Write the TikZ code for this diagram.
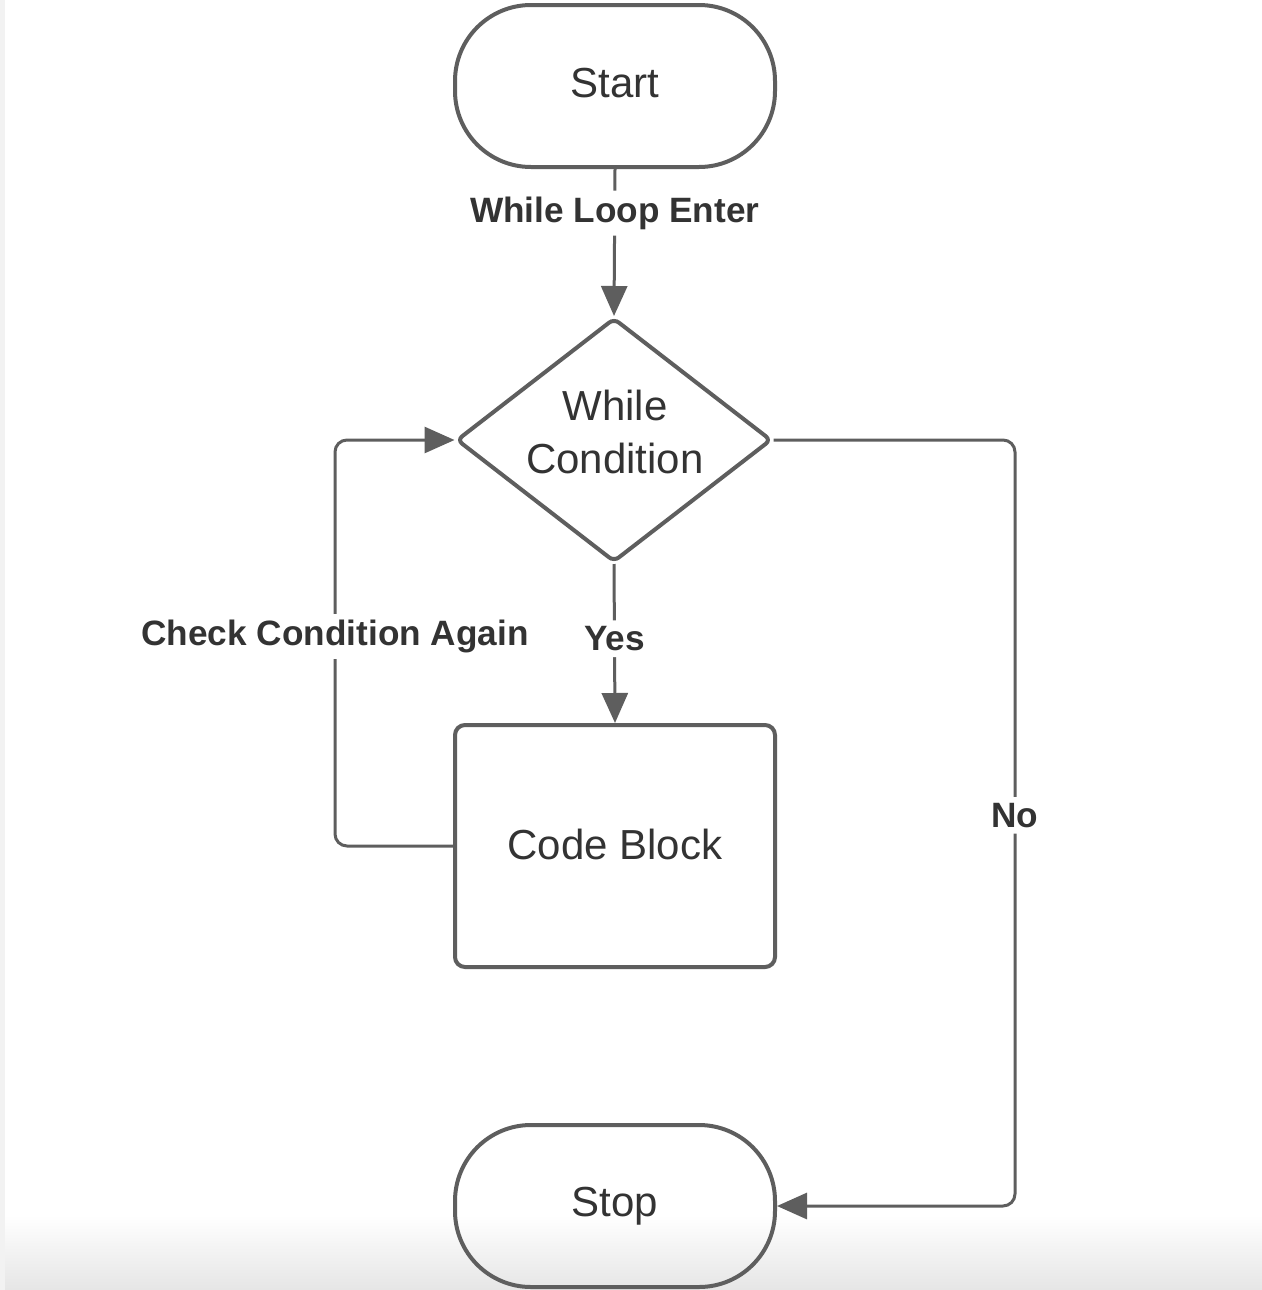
\documentclass[tikz,border=0pt]{standalone}
\usepackage{fontspec}
\setmainfont{Liberation Sans}
\usetikzlibrary{shapes.geometric,arrows.meta}
\definecolor{linegray}{HTML}{5E5E5E}
\definecolor{textgray}{HTML}{333333}
\tikzset{
  term/.style={draw=linegray, line width=2pt, rectangle, rounded corners=38pt,
    minimum width=160pt, minimum height=81pt, inner sep=0pt,
    font=\fontsize{21}{25}\selectfont, text=textgray},
  procbox/.style={draw=linegray, line width=2pt, rectangle, rounded corners=5pt,
    minimum width=160pt, minimum height=121pt, inner sep=0pt,
    font=\fontsize{21}{25}\selectfont, text=textgray},
  decision/.style={draw=linegray, line width=2pt, diamond, rounded corners=3pt,
    minimum width=157.5pt, minimum height=122pt, inner sep=0pt},
  bigtext/.style={font=\fontsize{21}{26.5}\selectfont, text=textgray, align=center},
  conn/.style={draw=linegray, line width=1.5pt, rounded corners=6pt,
    -{Triangle[length=15pt,width=13pt]}},
  lbl/.style={font=\bfseries\fontsize{17.6}{20}\selectfont, text=textgray,
    fill=white, inner sep=3pt}
}
\begin{document}
\begin{tikzpicture}[x=0.5pt,y=-0.5pt]
  % background
  \fill[white] (0,0) rectangle (1262,1290);
  \shade[top color=white, bottom color=black!10] (0,1215) rectangle (1262,1290);
  \fill[black!5] (0,0) rectangle (5,1290);
  \useasboundingbox (0,0) rectangle (1262,1290);

  % nodes
  \node[term] (start) at (615,86) {\raisebox{3pt}{Start}};
  \node[decision] (cond) at (614,440) {};
  \node[bigtext] (condtext) at (615,432) {While\\Condition};
  \node[procbox] (code) at (615,846) {\raisebox{1.5pt}{Code Block}};
  \node[term] (stop) at (615,1206) {\raisebox{3pt}{Stop}};

  \coordinate (leftx) at (335,0);
  \coordinate (rightx) at (1015,0);

  % connectors
  \draw[conn] (start.south) -- node[lbl, pos=0.3] {While Loop Enter} (cond.north);
  \draw[conn] (cond.south) -- node[lbl, pos=0.47] {Yes} (code.north);
  \draw[conn] (code.west) -- (code.west -| leftx)
     -- node[lbl, pos=0.516] {Check Condition Again} (cond.west -| leftx)
     -- (cond.west);
  \draw[conn] (cond.east) -- (cond.east -| rightx)
     -- node[lbl, pos=0.49] {No} (stop.east -| rightx)
     -- (stop.east);
\end{tikzpicture}
\end{document}
